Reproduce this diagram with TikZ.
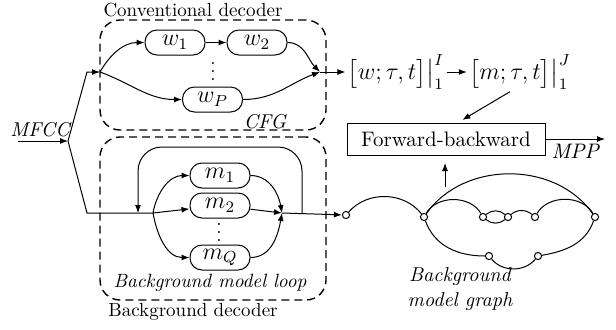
\documentclass[tikz,border=0pt]{standalone}
\usepackage{amsmath}
\usetikzlibrary{positioning,arrows.meta}
\newcommand{\lattice}[2]{{\fontsize{12}{14}\selectfont$\bigl[#1;\tau,t\bigr]\bigr|_{1}^{#2}$}}

\begin{document}
\begin{tikzpicture}[x=0.5pt, y=0.5pt, line width=0.5pt,
  unit/.style={draw, rounded corners=6pt, minimum width=30pt, minimum height=12.5pt, inner sep=0pt,
               font=\fontsize{12}{12}\selectfont},
  region/.style={draw, dash pattern=on 4pt off 2.5pt, line width=0.7pt, rounded corners=10pt, inner sep=0pt},
  vtx/.style={circle, draw, fill=white, inner sep=0pt, minimum size=3.6pt},
  arr/.style={-{Latex[length=4pt,width=3pt]}},
  txt/.style={font=\fontsize{9.5}{12}\selectfont},
  lbl/.style={font=\fontsize{10}{12.5}\selectfont\itshape},
  node distance=10.5pt]
\useasboundingbox (0,0) rectangle (616,329);
\node[region, minimum width=113pt, minimum height=55pt] (conv) at (213,254) {};
\node[region, minimum width=113pt, minimum height=81.5pt] (back) at (213,110.5) {};
\node[txt] (convlbl) at (193,319) {Conventional decoder};
\node[txt] (backlbl) at (193,17) {Background decoder};
\node[lbl] (cfg) at (265,207) {CFG};
\node[lbl, font=\fontsize{9.6}{12}\selectfont\itshape] (looplbl) at (210,46) {Background model loop};
\node[lbl] (mfcc) at (40,199) {MFCC};
\coordinate (in) at (18,188);
\coordinate (split) at (68,188);
\coordinate (topbend) at (87,257);
\coordinate (topsplit) at (100,257);
\coordinate (topmerge) at (320,257);
\coordinate (botbend) at (87,116);
\coordinate (loopin) at (138,116);
\coordinate (botsplit) at (153,116);
\coordinate (botmerge) at (282,116);
\coordinate (loopout) at (302,116);
\coordinate (looptop) at (220,182);
\node[unit] (w1) at (175,286.5) {$w_1$};
\node[unit, right=10.5pt of w1] (w2) {$w_2$};
\node[unit] (wP) at (212.5,229.5) {$w_P$};
\node[txt, inner sep=0pt] (wdots) at (213,264) {\vdots};
\node[unit] (m1) at (220,153.5) {$m_1$};
\node[unit] (m2) at (220,123.5) {$m_2$};
\node[unit] (mQ) at (220,71.5) {$m_Q$};
\node[txt, inner sep=0pt] (mdots) at (219,103) {\vdots};
\node[inner sep=1pt] (wlat) at (396,257) {\lattice{w}{I}};
\node[inner sep=1pt] (mlat) at (520,257) {\lattice{m}{J}};
\node[draw, font=\fontsize{10.5}{13}\selectfont, minimum width=99pt, minimum height=16pt, inner sep=0pt] (fb) at (446,190) {Forward-backward};
\coordinate (mppend) at (605,190);
\coordinate (gtop) at (445,142);
\coordinate (gtip) at (445,166);
\foreach \n/\x/\y in {a/346/114, b/424/112, c/483/112, d/508/112, e/535/112, f/595/112, g/489/73, h/538/73}
  \node[vtx] (\n) at (\x,\y) {};
\node[lbl, align=center] (graphlbl) at (460,40) {Background\\model graph};
\draw[arr] (in) -- (split);
\draw[arr] (split) -- (topbend) -- (topsplit);
\draw (split) -- (botbend) -- (botsplit);
\draw[arr] (topsplit) to[out=60,in=180] (w1);
\draw[arr] (topsplit) to[out=-20,in=180] (wP);
\draw[arr] (w1) -- (w2);
\draw[arr] (w2) to[out=0,in=135] (topmerge);
\draw[arr] (wP) to[out=0,in=200] (topmerge);
\draw[arr] (topmerge) -- (wlat);
\draw[arr] (wlat) -- (mlat);
\draw[arr, shorten >=2.5pt] ([xshift=-5pt]mlat.south) -- ([xshift=6pt]fb.north);
\draw[arr] (fb) -- node[lbl, below, inner sep=2.5pt, font=\fontsize{10.5}{12}\selectfont\itshape] {MPP} (mppend);
\draw[arr] (botsplit) to[out=80,in=180] (m1);
\draw[arr] (botsplit) -- (m2);
\draw[arr] (botsplit) to[out=-80,in=180] (mQ);
\draw[arr] (m1) to[out=0,in=100] (botmerge);
\draw[arr] (m2) -- (botmerge);
\draw[arr] (mQ) to[out=0,in=-100] (botmerge);
\draw[arr, rounded corners=12pt] (loopout) |- (looptop) -| (loopin);
\draw[arr] (botmerge) -- (a);
\draw[arr] (gtop) -- (gtip);
\draw (a) to[bend left=50] (b);
\draw (b) to[out=55,in=125] (f);
\draw (b) to[bend left=60] (c);
\draw (c) to[bend left=40] (d);
\draw (c) to[bend right=40] (d);
\draw (d) to[bend left=40] (e);
\draw (e) to[bend left=60] (f);
\draw (b) to[out=-70,in=180] (g);
\draw (g) to[bend right=50] (h);
\draw (h) to[out=10,in=-110] (f);
\end{tikzpicture}
\end{document}
